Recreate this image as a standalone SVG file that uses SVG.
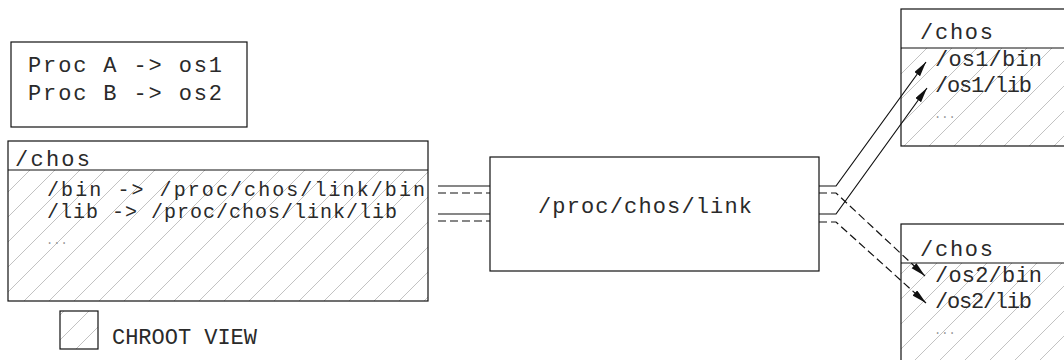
<svg xmlns="http://www.w3.org/2000/svg" width="1064" height="360" viewBox="0 0 1064 360">
<style>
.box{fill:none;stroke:#111;stroke-width:1.2}
.t{font-family:"Liberation Mono","DejaVu Sans Mono",monospace;font-size:22px;fill:#2a2a2a}
.m{font-size:20px}
.s{font-family:"Liberation Mono","DejaVu Sans Mono",monospace;font-size:12px;fill:#999}
.ln{fill:none;stroke:#111;stroke-width:1.2}
.dash{stroke-dasharray:8 4}
</style>
<defs>
<pattern id="hatch" patternUnits="userSpaceOnUse" width="25" height="25">
<path d="M0,25 L25,0 M-5,5 L5,-5 M20,30 L30,20" stroke="#c2c2c2" stroke-width="1"/>
</pattern>
<marker id="arr" markerUnits="userSpaceOnUse" markerWidth="16" markerHeight="8" refX="15" refY="3.5" orient="auto">
<path d="M0,0 L15,3.5 L0,7 z" fill="#111"/>
</marker>
</defs>
<rect width="1064" height="360" fill="#fff"/>

<g id="proc-box">
<rect class="box" x="11" y="42" width="236" height="85"/>
<text class="t" x="28" y="72" textLength="194" lengthAdjust="spacing">Proc A -&gt; os1</text>
<text class="t" x="28" y="100" textLength="194" lengthAdjust="spacing">Proc B -&gt; os2</text>
</g>

<g id="chos-main">
<rect x="8" y="170" width="420" height="131" fill="url(#hatch)"/>
<rect class="box" x="8" y="141" width="420" height="160"/>
<line class="ln" x1="8" y1="170" x2="428" y2="170"/>
<text class="t" x="15" y="166" textLength="75" lengthAdjust="spacing">/chos</text>
<text class="t m" x="47" y="196" textLength="378" lengthAdjust="spacing">/bin -&gt; /proc/chos/link/bin</text>
<text class="t m" x="47" y="218" textLength="350" lengthAdjust="spacing">/lib -&gt; /proc/chos/link/lib</text>
<text class="s" x="46" y="244">...</text>
</g>

<g id="link">
<rect class="box" x="490" y="157" width="329" height="114"/>
<text class="t" x="538" y="213" textLength="214" lengthAdjust="spacing">/proc/chos/link</text>
</g>

<g id="chos-os1">
<rect x="901" y="48" width="170" height="98" fill="url(#hatch)"/>
<rect class="box" x="901" y="9" width="200" height="137"/>
<line class="ln" x1="901" y1="48" x2="1064" y2="48"/>
<text class="t" x="920" y="39" textLength="73" lengthAdjust="spacing">/chos</text>
<text class="t" x="935" y="66" textLength="107" lengthAdjust="spacing">/os1/bin</text>
<text class="t" x="935" y="92" textLength="97" lengthAdjust="spacing">/os1/lib</text>
<text class="s" x="934" y="118">...</text>
</g>

<g id="chos-os2">
<rect x="901" y="263" width="170" height="100" fill="url(#hatch)"/>
<rect class="box" x="901" y="224" width="200" height="150"/>
<line class="ln" x1="901" y1="263" x2="1064" y2="263"/>
<text class="t" x="920" y="256" textLength="73" lengthAdjust="spacing">/chos</text>
<text class="t" x="935" y="282" textLength="107" lengthAdjust="spacing">/os2/bin</text>
<text class="t" x="935" y="308" textLength="97" lengthAdjust="spacing">/os2/lib</text>
<text class="s" x="934" y="334">...</text>
</g>

<g id="legend">
<rect x="60" y="311" width="38" height="38" fill="url(#hatch)"/>
<rect class="box" x="60" y="311" width="38" height="38"/>
<text class="t" x="112" y="344" textLength="145" lengthAdjust="spacing">CHROOT VIEW</text>
</g>

<g id="connectors">
<path class="ln" d="M438,186 H490"/>
<path class="ln dash" d="M438,193 H490"/>
<path class="ln" d="M438,214 H490"/>
<path class="ln dash" d="M438,221 H490"/>
<path class="ln" d="M819,186 H836 L926,62" marker-end="url(#arr)"/>
<path class="ln" d="M819,214 H836 L927,88" marker-end="url(#arr)"/>
<path class="ln dash" d="M819,193 H836 L925,276" marker-end="url(#arr)"/>
<path class="ln dash" d="M819,222 H836 L926,303" marker-end="url(#arr)"/>
</g>
</svg>
